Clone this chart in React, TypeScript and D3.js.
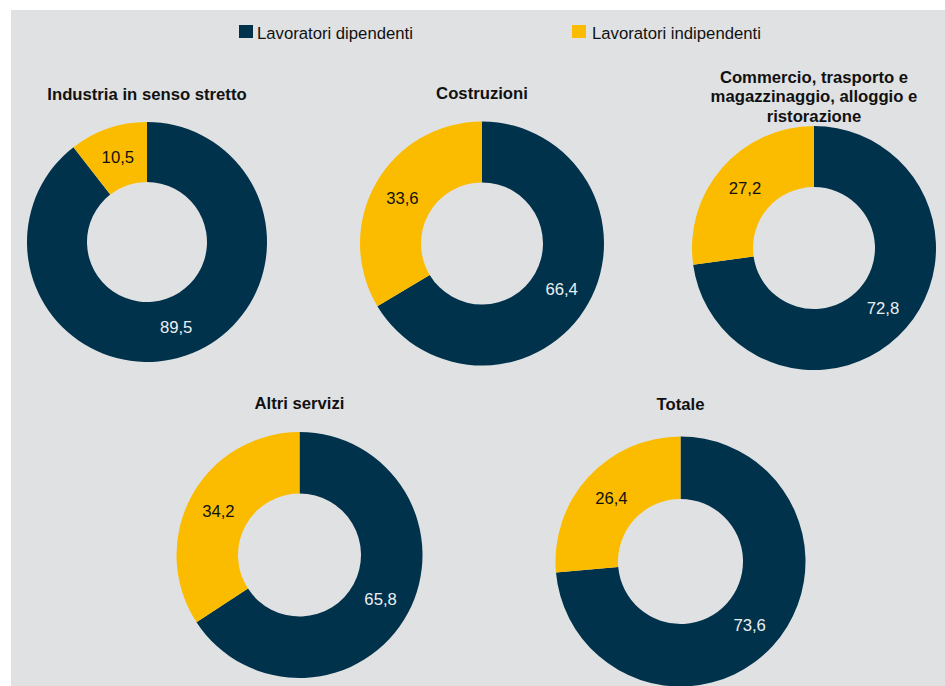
import React from "react";
import * as d3 from "d3";

const W = 945;
const H = 686;

const seriesNames = ["Lavoratori dipendenti", "Lavoratori indipendenti"];
const seriesColors = ["#00324c", "#fbbc00"];
const labelColors = ["#eceff1", "#111111"];

const categories = [
  ["Industria in senso stretto"],
  ["Costruzioni"],
  ["Commercio, trasporto e", "magazzinaggio, alloggio e", "ristorazione"],
  ["Altri servizi"],
  ["Totale"],
];
const dipendenti = [89.5, 66.4, 72.8, 65.8, 73.6];
const indipendenti = [10.5, 33.6, 27.2, 34.2, 26.4];

// layout (positions and sizes)
const centers = [
  { cx: 147, cy: 242, r: 120, titleY: 100 },
  { cx: 482, cy: 243.5, r: 122, titleY: 98.5 },
  { cx: 814, cy: 248, r: 122, titleY: 83 },
  { cx: 299.5, cy: 555, r: 123, titleY: 409 },
  { cx: 680.5, cy: 561.5, r: 125, titleY: 410 },
];

const FONT = "'Liberation Sans', Arial, sans-serif";
const FS = 16.7;

const fmt = (v: number) => d3.format(".1f")(v).replace(".", ",");

export default function App() {
  const pie = d3
    .pie<number>()
    .sort(null)
    .value((d) => d);

  return (
    <svg
      width={W}
      height={H}
      style={{ position: "absolute", left: 0, top: 0, background: "#ffffff" }}
      fontFamily={FONT}
    >
      <rect x={11} y={10} width={W - 11} height={H - 10} fill="#e0e1e3" />
      {/* legend */}
      <g>
        <rect x={239} y={25} width={14} height={13} fill={seriesColors[0]} />
        <text x={257} y={39} fontSize={FS} fill="#111">
          {seriesNames[0]}
        </text>
        <rect x={572} y={25} width={14} height={13} fill={seriesColors[1]} />
        <text x={592} y={38.5} fontSize={FS} fill="#111">
          {seriesNames[1]}
        </text>
      </g>
      {categories.map((title, i) => {
        const c = centers[i];
        const arcs = pie([dipendenti[i], indipendenti[i]]);
        const arc = d3
          .arc<d3.PieArcDatum<number>>()
          .innerRadius(c.r * 0.5)
          .outerRadius(c.r);
        const labelArc = d3
          .arc<d3.PieArcDatum<number>>()
          .innerRadius(c.r * 0.5)
          .outerRadius(c.r);
        return (
          <g key={i}>
            {title.map((line, j) => (
              <text
                key={j}
                x={c.cx}
                y={c.titleY + j * 19.3}
                textAnchor="middle"
                fontSize={FS}
                fontWeight="bold"
                fill="#111"
              >
                {line}
              </text>
            ))}
            <g transform={`translate(${c.cx},${c.cy})`}>
              {arcs.map((a, k) => (
                <path key={k} d={arc(a) || ""} fill={seriesColors[k]} />
              ))}
              {arcs.map((a, k) => {
                const [x, y] = labelArc.centroid(a);
                return (
                  <text
                    key={"l" + k}
                    x={x}
                    y={y}
                    dy="0.36em"
                    textAnchor="middle"
                    fontSize={FS}
                    fill={labelColors[k]}
                  >
                    {fmt(a.data)}
                  </text>
                );
              })}
            </g>
          </g>
        );
      })}
    </svg>
  );
}
